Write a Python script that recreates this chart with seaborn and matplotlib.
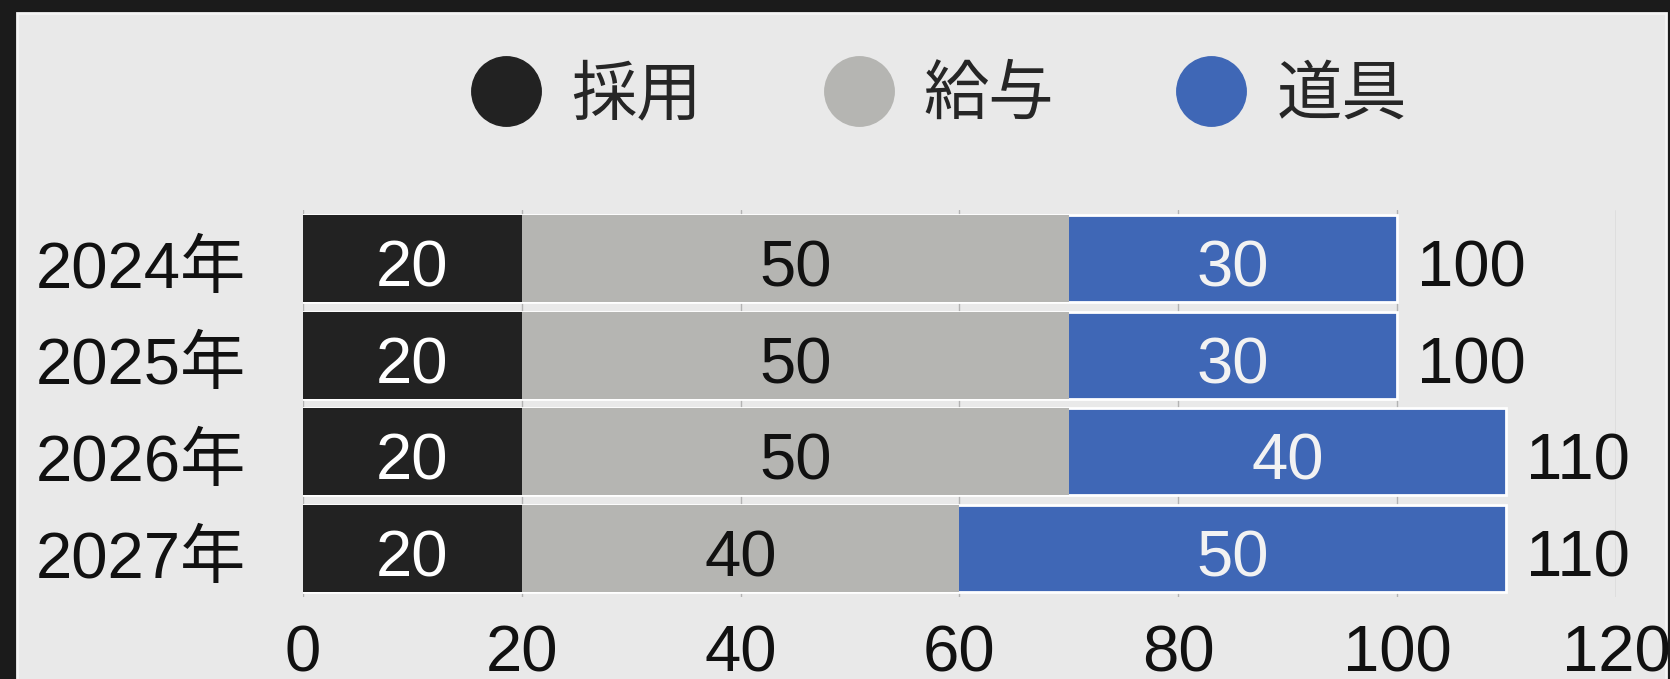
import numpy as np
import pandas as pd
import matplotlib
matplotlib.use("Agg")
import matplotlib.pyplot as plt
from matplotlib.lines import Line2D
from matplotlib.patches import Rectangle
from matplotlib.transforms import ScaledTranslation
import seaborn as sns

# data
years = ["2024年", "2025年", "2026年", "2027年"]
saiyo = [20, 20, 20, 20]      # 採用
kyuyo = [50, 50, 50, 40]      # 給与
dogu = [30, 30, 40, 50]       # 道具
series_names = ["採用", "給与", "道具"]
colors = ["#222222", "#b5b5b2", "#3f67b6"]
text_colors = ["white", "#111111", "#f2f2f2"]
xticks = [0, 20, 40, 60, 80, 100, 120]

sns.set_theme(style="white")
plt.rcParams["font.family"] = ["Liberation Sans", "Noto Sans CJK JP", "DejaVu Sans"]

df = pd.DataFrame({"year": years, "採用": saiyo, "給与": kyuyo, "道具": dogu})
df["cum1"] = df["採用"]
df["cum2"] = df["採用"] + df["給与"]
df["total"] = df["cum2"] + df["道具"]

fs = 47
fig = plt.figure(figsize=(16.7, 6.79), dpi=100)
fig.patch.set_facecolor("#1b1b1b")
# light panel inside the dark frame
fig.patches.append(Rectangle((0.0102, -0.1), 0.9874, 1.081, transform=fig.transFigure,
                             facecolor="#e9e9e9", edgecolor="#f5f5f5", lw=2, zorder=-5))

ax = fig.add_axes([0.1814, 0.1208, 0.7862, 0.5699])
ax.set_facecolor("none")

# stacked bars drawn back to front with cumulative widths
sns.barplot(data=df, x="total", y="year", orient="y", color=colors[2], width=0.9,
            edgecolor="white", linewidth=2.0, saturation=1, ax=ax, zorder=2)
sns.barplot(data=df, x="cum2", y="year", orient="y", color=colors[1], width=0.9,
            linewidth=0, saturation=1, ax=ax, zorder=3)
sns.barplot(data=df, x="cum1", y="year", orient="y", color=colors[0], width=0.9,
            linewidth=0, saturation=1, ax=ax, zorder=4)

# segment labels
lefts = [np.zeros(len(years)), df["cum1"].values, df["cum2"].values]
vals = [df["採用"].values, df["給与"].values, df["道具"].values]
for left, v, tc in zip(lefts, vals, text_colors):
    for i in range(len(years)):
        ax.annotate(str(v[i]), (left[i] + v[i] / 2, i), xytext=(0, -8),
                    textcoords="offset points", ha="center", va="center",
                    fontsize=fs, color=tc, zorder=5)

# totals
for i, t in enumerate(df["total"]):
    ax.annotate(str(t), (t, i), xytext=(14, -8), textcoords="offset points",
                ha="left", va="center", fontsize=fs, color="#111111", zorder=5)

ax.set_xlim(0, 120)
ax.set_ylim(3.5, -0.5)
ax.set_xticks(xticks)
ax.set_xticklabels([str(x) for x in xticks])
ax.grid(axis="x", color="#b3b3b3", lw=1)
ax.grid(axis="y", visible=False)
ax.set_axisbelow(True)
ax.tick_params(axis="x", length=0, pad=20, labelsize=fs, colors="#111111")
ax.tick_params(axis="y", length=0, pad=41, labelsize=fs, colors="#111111")
ax.set_xlabel("")
ax.set_ylabel("")
for s in ax.spines.values():
    s.set_visible(False)
shift = ScaledTranslation(0, -4 / 72, fig.dpi_scale_trans)
for lbl in ax.get_yticklabels():
    lbl.set_transform(lbl.get_transform() + shift)

handles = [Line2D([], [], marker="o", linestyle="", markersize=50, color=c) for c in colors]
fig.legend(handles, series_names, loc="center", bbox_to_anchor=(0.563, 0.858), ncol=3,
           frameon=False, fontsize=fs, handlelength=1.0, handletextpad=0.5,
           columnspacing=1.9)

fig.savefig("out.png", dpi=100, facecolor=fig.get_facecolor())
